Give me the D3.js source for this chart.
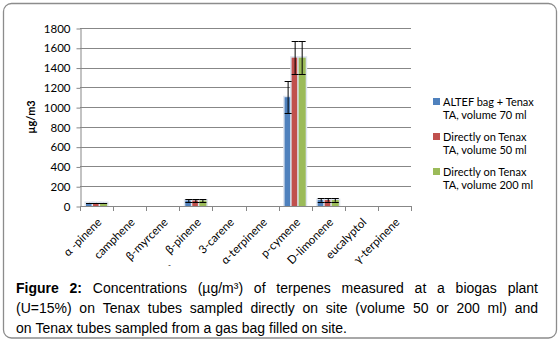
<!DOCTYPE html>
<html>
<head>
<meta charset="utf-8">
<script src="https://cdn.jsdelivr.net/npm/d3@7"></script>
<style>
    body { margin: 0; background: #fff; }
    svg { display: block; }
</style>
</head>
<body>
<div class="chart"></div>
<script>
// data
const categories = ["α -pinene", "camphene", "β-myrcene", "β-pinene", "3-carene", "α-terpinene", "p-cymene", "D-limonene", "eucalyptol", "γ-terpinene"];
const seriesNames = ["ALTEF bag + Tenax TA, volume 70 ml", "Directly on Tenax TA, volume 50 ml", "Directly on Tenax TA, volume 200 ml"];
const legendLines = [["ALTEF bag + Tenax", "TA, volume 70 ml"], ["Directly on Tenax", "TA, volume 50 ml"], ["Directly on Tenax", "TA, volume 200 ml"]];
const seriesColors = ["#4F81BD", "#C0504D", "#9BBB59"];
const altefValues = [30, 0, 0, 55, 0, 0, 1100, 60, 0, 0];
const tenax50Values = [30, 0, 0, 55, 0, 0, 1500, 60, 0, 0];
const tenax200Values = [30, 0, 0, 55, 0, 0, 1500, 60, 0, 0];
const altefErrors = [1, 0, 0, 15, 0, 0, 160, 17, 0, 0];
const tenax50Errors = [1, 0, 0, 15, 0, 0, 165, 17, 0, 0];
const tenax200Errors = [1, 0, 0, 15, 0, 0, 165, 17, 0, 0];
const yTicks = [0, 200, 400, 600, 800, 1000, 1200, 1400, 1600, 1800];
const yTitle = "µg/m3";
const captionLabel = "Figure 2:";
const captionLines = [
    "Concentrations (µg/m³) of terpenes measured at a biogas plant",
    "(U=15%) on Tenax tubes sampled directly on site (volume 50 or 200 ml) and",
    "on Tenax tubes sampled from a gas bag filled on site."
];

const width = 560;
const height = 342;
const plot = { left: 80, right: 411, top: 28, bottom: 206 };
const chartFont = "Lato, 'Open Sans', sans-serif";
const captionFont = "'Liberation Sans', Arial, sans-serif";
const gridColor = "#878787";

const values = [altefValues, tenax50Values, tenax200Values];
const errors = [altefErrors, tenax50Errors, tenax200Errors];

const svg = d3.select(".chart")
    .append("svg")
    .attr("width", width)
    .attr("height", height);

svg.append("rect")
    .attr("x", 3.5)
    .attr("y", 3.5)
    .attr("width", 553)
    .attr("height", 334.5)
    .attr("rx", 8)
    .attr("fill", "#fff")
    .attr("stroke", "#8c8c8c")
    .attr("stroke-width", 1.3);

const y = d3.scaleLinear()
    .domain([0, 1800])
    .range([plot.bottom, plot.top]);

const x0 = d3.scaleBand()
    .domain(categories)
    .range([plot.left, plot.right])
    .paddingInner(0)
    .paddingOuter(0);

const x1 = d3.scaleBand()
    .domain(seriesNames)
    .range([6, x0.bandwidth() - 6]);

// gridlines
svg.append("g")
    .selectAll("line")
    .data(yTicks.filter(d => d > 0))
    .enter().append("line")
    .attr("x1", plot.left)
    .attr("x2", plot.right)
    .attr("y1", d => Math.round(y(d)) + 0.5)
    .attr("y2", d => Math.round(y(d)) + 0.5)
    .attr("stroke", gridColor)
    .attr("stroke-width", 1);

// y axis
const yAxis = svg.append("g")
    .attr("transform", `translate(${plot.left + 0.5}, 0.5)`)
    .call(d3.axisLeft(y).tickValues(yTicks).tickFormat(d3.format("d")).tickSize(4).tickPadding(6).tickSizeOuter(0));
yAxis.select(".domain").attr("stroke", gridColor);
yAxis.selectAll(".tick line").attr("stroke", gridColor);
yAxis.selectAll(".tick text")
    .style("font-family", chartFont)
    .style("font-size", "11.5px")
    .attr("fill", "#000");

svg.append("text")
    .attr("transform", `translate(35, ${(plot.top + plot.bottom) / 2}) rotate(-90)`)
    .attr("text-anchor", "middle")
    .style("font-family", chartFont)
    .style("font-size", "11px")
    .style("font-weight", "bold")
    .text(yTitle);

// x axis
const xAxis = svg.append("g");
xAxis.append("line")
    .attr("x1", plot.left)
    .attr("x2", plot.right)
    .attr("y1", plot.bottom + 0.5)
    .attr("y2", plot.bottom + 0.5)
    .attr("stroke", gridColor);
xAxis.selectAll(".xtick")
    .data(categories.map(c => x0(c)).concat([x0.range()[1]]))
    .enter().append("line")
    .attr("class", "xtick")
    .attr("x1", d => Math.round(d) + 0.5)
    .attr("x2", d => Math.round(d) + 0.5)
    .attr("y1", plot.bottom)
    .attr("y2", plot.bottom + 5)
    .attr("stroke", gridColor);
xAxis.selectAll(".xlabel")
    .data(categories)
    .enter().append("text")
    .attr("class", "xlabel")
    .attr("transform", d => `translate(${x0(d) + x0.bandwidth() / 2 + 3}, ${plot.bottom + 14}) rotate(-45)`)
    .attr("dy", "0.35em")
    .attr("text-anchor", "end")
    .style("font-family", chartFont)
    .style("font-size", "11.5px")
    .text(d => d);

svg.append("text")
    .attr("x", 168)
    .attr("y", 268)
    .style("font-family", chartFont)
    .style("font-size", "8px")
    .text("-");

// bars
const rows = categories.map((c, i) => ({
    category: c,
    items: seriesNames.map((s, k) => ({ series: s, value: values[k][i], err: errors[k][i], color: seriesColors[k] }))
}));

const group = svg.selectAll(".grp")
    .data(rows)
    .enter().append("g")
    .attr("class", "grp")
    .attr("transform", d => `translate(${x0(d.category)}, 0)`);

const bar = group.selectAll(".bar")
    .data(d => d.items.filter(e => e.value > 0))
    .enter().append("g")
    .attr("class", "bar");

bar.append("rect")
    .attr("x", d => x1(d.series) - 1.5)
    .attr("y", d => y(d.value) - 1.5)
    .attr("width", x1.bandwidth() + 3)
    .attr("height", d => plot.bottom - y(d.value) + 1.5)
    .attr("fill", "#dde4ef");

bar.append("rect")
    .attr("x", d => x1(d.series))
    .attr("y", d => y(d.value))
    .attr("width", x1.bandwidth())
    .attr("height", d => plot.bottom - y(d.value))
    .attr("fill", d => d.color);

// error bars
const err = group.selectAll(".err")
    .data(d => d.items.filter(e => e.err > 0))
    .enter().append("g")
    .attr("class", "err")
    .attr("stroke", "#000")
    .attr("stroke-width", 1);

err.append("line")
    .attr("x1", d => x1(d.series) + x1.bandwidth() / 2)
    .attr("x2", d => x1(d.series) + x1.bandwidth() / 2)
    .attr("y1", d => y(d.value + d.err))
    .attr("y2", d => y(d.value - d.err));
err.selectAll(".cap")
    .data(d => [d.value + d.err, d.value - d.err].map(v => ({ v: v, d: d })))
    .enter().append("line")
    .attr("x1", e => x1(e.d.series) + x1.bandwidth() / 2 - 3.5)
    .attr("x2", e => x1(e.d.series) + x1.bandwidth() / 2 + 3.5)
    .attr("y1", e => Math.round(y(e.v)) + 0.5)
    .attr("y2", e => Math.round(y(e.v)) + 0.5);

// legend
const legend = svg.selectAll(".legend-item")
    .data(seriesNames)
    .enter().append("g")
    .attr("class", "legend-item")
    .attr("transform", (d, i) => `translate(433, ${98 + i * 35})`);

legend.append("rect")
    .attr("width", 7)
    .attr("height", 7)
    .attr("fill", (d, i) => seriesColors[i]);

legend.append("text")
    .style("font-family", chartFont)
    .style("font-size", "11px")
    .selectAll("tspan")
    .data((d, i) => legendLines[i])
    .enter().append("tspan")
    .attr("x", 10)
    .attr("y", (d, j) => 7.5 + j * 13)
    .text(d => d);

// caption, justified like the journal layout
const capLeft = 16;
const capRight = 538;
const capBase = [292.5, 312.5, 332.5];
const capG = svg.append("g")
    .style("font-family", captionFont)
    .style("font-size", "14px");

captionLines.forEach((line, li) => {
    let words = line.split(" ").map(w => ({ t: w, b: false }));
    if (li === 0) {
        words = captionLabel.split(" ").map(w => ({ t: w, b: true })).concat(words);
    }
    const nodes = words.map(w => capG.append("text")
        .attr("y", capBase[li])
        .style("font-weight", w.b ? "bold" : "normal")
        .text(w.t));
    const widths = nodes.map(n => n.node().getComputedTextLength());
    const total = d3.sum(widths);
    const justify = li < captionLines.length - 1;
    const gap = justify ? (capRight - capLeft - total) / (words.length - 1) : 3.9;
    let cx = capLeft;
    nodes.forEach((n, k) => {
        n.attr("x", cx);
        cx += widths[k] + gap;
    });
});
</script>
</body>
</html>
